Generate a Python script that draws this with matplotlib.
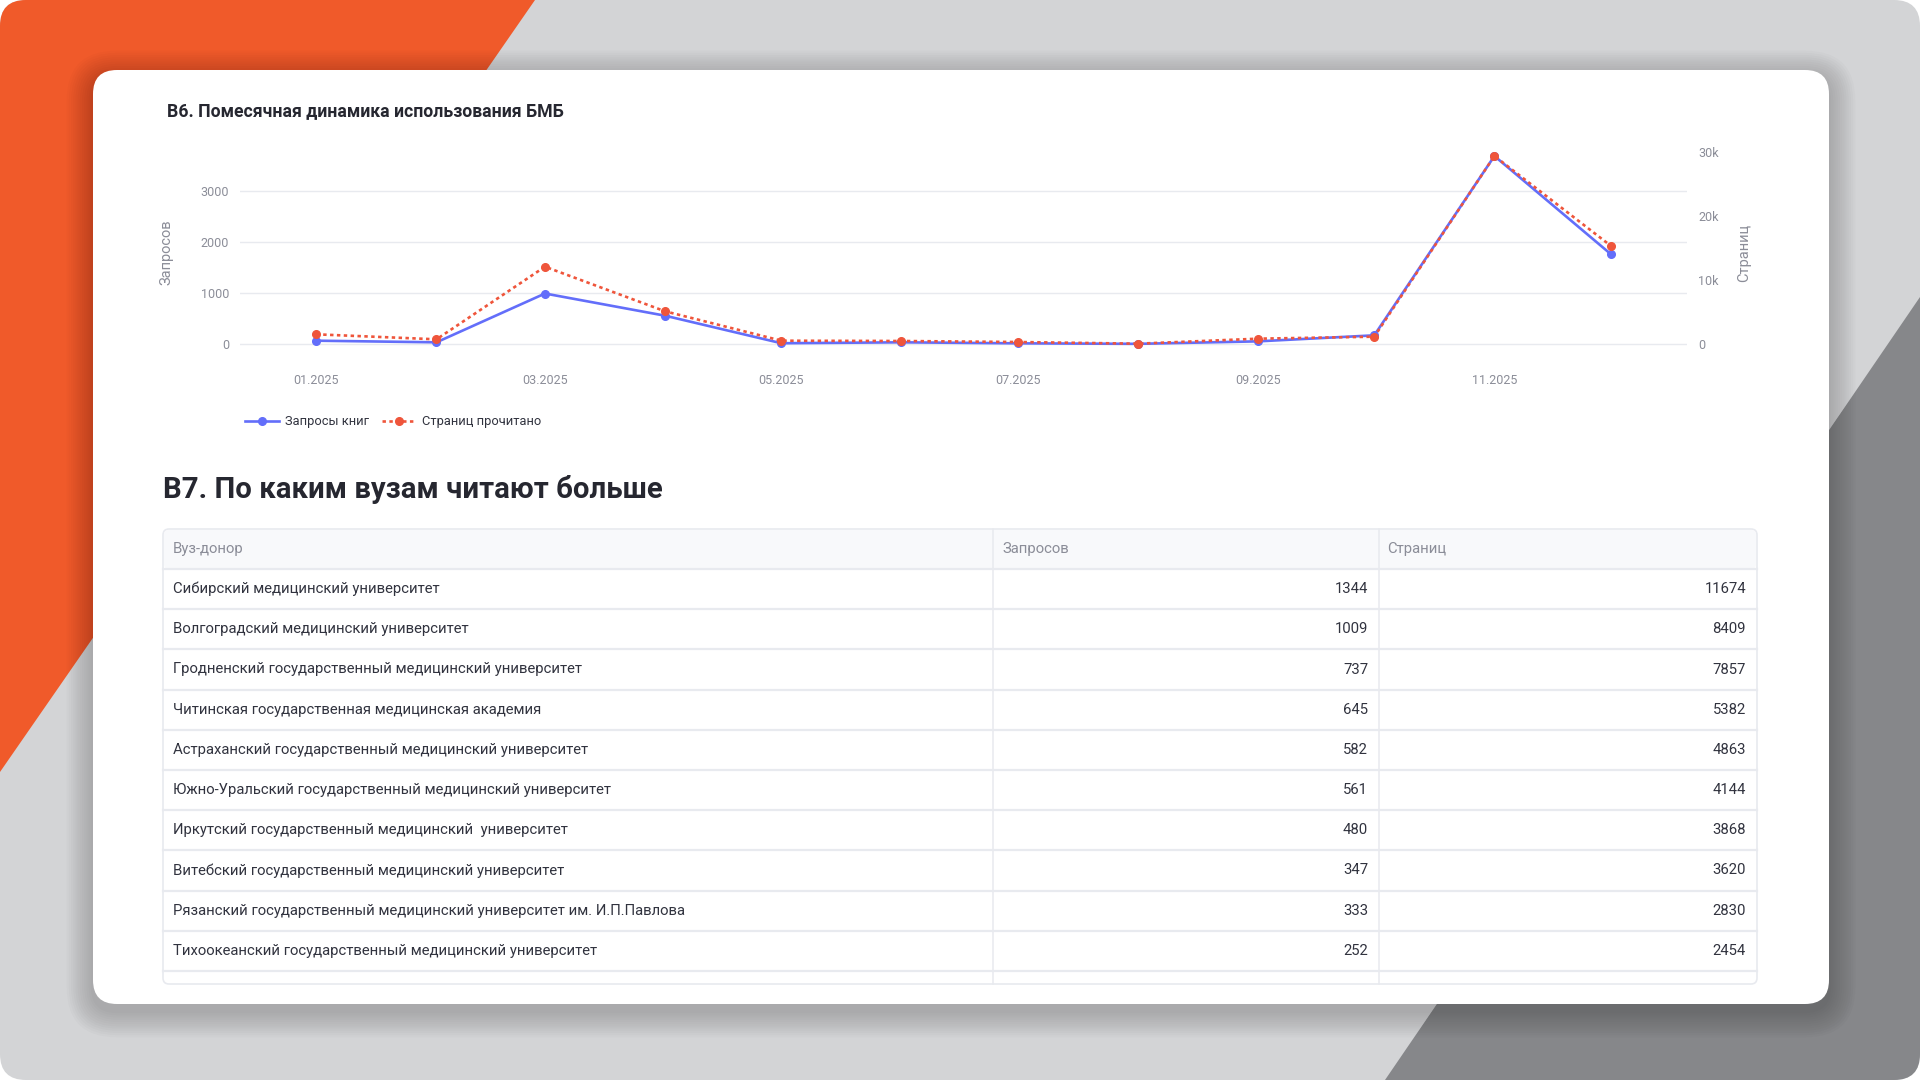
import matplotlib
matplotlib.use("Agg")
import matplotlib.pyplot as plt
import matplotlib.dates as mdates
from matplotlib.patches import FancyBboxPatch, Polygon
import pandas as pd

W, H = 1920, 1080

# --- данные графика B6 ---
months = pd.to_datetime([
    "2025-01-01", "2025-02-01", "2025-03-01", "2025-04-01", "2025-05-01", "2025-06-01",
    "2025-07-01", "2025-08-01", "2025-09-01", "2025-10-01", "2025-11-01", "2025-12-01",
])
requests = [65, 33, 990, 555, 15, 33, 13, 3, 52, 170, 3686, 1765]
pages = [1510, 730, 12060, 5100, 515, 470, 310, 50, 830, 1140, 29330, 15340]

xtick_months = pd.to_datetime(["2025-01-01", "2025-03-01", "2025-05-01",
                               "2025-07-01", "2025-09-01", "2025-11-01"])
xtick_labels = ["01.2025", "03.2025", "05.2025", "07.2025", "09.2025", "11.2025"]
left_ticks = [0, 1000, 2000, 3000]
right_ticks = [0, 10000, 20000, 30000]
right_tick_labels = ["0", "10k", "20k", "30k"]

# --- данные таблицы B7 ---
table_header = ["Вуз-донор", "Запросов", "Страниц"]
universities = [
    "Сибирский медицинский университет",
    "Волгоградский медицинский университет",
    "Гродненский государственный медицинский университет",
    "Читинская государственная медицинская академия",
    "Астраханский государственный медицинский университет",
    "Южно-Уральский государственный медицинский университет",
    "Иркутский государственный медицинский  университет",
    "Витебский государственный медицинский университет",
    "Рязанский государственный медицинский университет им. И.П.Павлова",
    "Тихоокеанский государственный медицинский университет",
]
uni_requests = [1344, 1009, 737, 645, 582, 561, 480, 347, 333, 252]
uni_pages = [11674, 8409, 7857, 5382, 4863, 4144, 3868, 3620, 2830, 2454]

BLUE = "#636efa"
RED = "#ef553b"
TEXT = "#31333f"
GRAY = "#8b8d98"
LINE = "#e8eaef"

plt.rcParams["font.family"] = ["Roboto", "DejaVu Sans"]

fig = plt.figure(figsize=(19.2, 10.8), dpi=100)
fig.patch.set_facecolor("white")

# фон слайда в пиксельных координатах
bg = fig.add_axes([0, 0, 1, 1])
bg.set_xlim(0, W)
bg.set_ylim(H, 0)
bg.axis("off")

frame = FancyBboxPatch((0, 0), W, H, boxstyle="round,pad=0,rounding_size=26",
                       fc="#d3d4d6", ec="none")
bg.add_patch(frame)
orange = Polygon([(0, 0), (535, 0), (0, 772)], closed=True, fc="#f05a2a", ec="none")
bg.add_patch(orange)
orange.set_clip_path(frame)
dark = Polygon([(W, 297), (W, H), (1385, H)], closed=True, fc="#86878a", ec="none")
bg.add_patch(dark)
dark.set_clip_path(frame)

# тень карточки
cx, cy, cw, ch = 93, 70, 1736, 934
for k in range(1, 13):
    g = 2.2 * k
    bg.add_patch(FancyBboxPatch((cx - g, cy - g + 7), cw + 2 * g, ch + 2 * g,
                                boxstyle=f"round,pad=0,rounding_size={24 + g}",
                                fc="black", ec="none", alpha=0.016))
bg.add_patch(FancyBboxPatch((cx, cy), cw, ch, boxstyle="round,pad=0,rounding_size=24",
                            fc="white", ec="none"))

bg.text(167, 111, "B6. Помесячная динамика использования БМБ", fontsize=12.7,
        fontweight="bold", color="#262730", va="center", ha="left")

# --- график ---
ax = fig.add_axes([240 / W, 1 - 360 / H, (1687 - 240) / W, (360 - 145) / H])
ax.patch.set_alpha(0)
l1, = ax.plot(months, requests, color=BLUE, lw=1.9, marker="o", ms=5.5,
              label="Запросы книг", zorder=3)
ax2 = ax.twinx()
l2, = ax2.plot(months, pages, color=RED, lw=1.9, ls=(0, (1.3, 1.3)), marker="o", ms=5.5,
               label="Страниц прочитано", zorder=3)

pad_days = pd.Timedelta(days=19.7)
ax.set_xlim(mdates.date2num(months[0] - pad_days), mdates.date2num(months[-1] + pad_days))
ax.set_ylim(-313.7, 3902)
ax2.set_ylim(-2496, 31045)

ax.set_xticks(mdates.date2num(xtick_months))
ax.set_xticklabels(xtick_labels)
ax.set_yticks(left_ticks)
ax.set_yticklabels([str(t) for t in left_ticks])
ax2.set_yticks(right_ticks)
ax2.set_yticklabels(right_tick_labels)

for a in (ax, ax2):
    for s in a.spines.values():
        s.set_visible(False)
    a.tick_params(length=0, labelsize=9, labelcolor=GRAY)
ax.tick_params(axis="x", pad=10)
ax.tick_params(axis="y", pad=8)
ax2.tick_params(axis="y", pad=8)
ax.grid(axis="y", color=LINE, lw=1)
ax.grid(axis="x", visible=False)
ax.set_axisbelow(True)

ax.set_ylabel("Запросов", fontsize=10.5, color=GRAY)
ax.yaxis.set_label_coords((173 - 240) / 1447, 0.5)
ax2.set_ylabel("Страниц", fontsize=10.5, color=GRAY)
ax2.yaxis.set_label_coords((1737 - 240) / 1447, 0.5)

fig.legend(handles=[l1, l2], loc="center left", bbox_to_anchor=(245 / W, 1 - 422 / H),
           ncol=2, frameon=False, fontsize=9.3, labelcolor=TEXT, handlelength=2.6,
           handletextpad=0.5, columnspacing=1.0, borderpad=0, borderaxespad=0)

# --- таблица ---
bg.text(163, 490, "B7. По каким вузам читают больше", fontsize=21.2, fontweight="bold",
        color="#262730", va="center", ha="left")

tx0, tx1, ty0, ty1 = 163, 1757, 529, 984
head_h, row_h = 40, 40.2
col_x = [163, 993, 1379]
bg.add_patch(FancyBboxPatch((tx0, ty0), tx1 - tx0, ty1 - ty0,
                            boxstyle="round,pad=0,rounding_size=6",
                            fc="white", ec=LINE, lw=1.2, zorder=2))
bg.add_patch(FancyBboxPatch((tx0 + 1, ty0 + 1), tx1 - tx0 - 2, head_h - 1,
                            boxstyle="round,pad=0,rounding_size=5",
                            fc="#f8f9fb", ec="none", zorder=2))
for xc in col_x[1:]:
    bg.plot([xc, xc], [ty0, ty1], color=LINE, lw=1.1, zorder=3)
n_lines = len(universities) + 1
for i in range(n_lines):
    yl = ty0 + head_h + i * row_h
    bg.plot([tx0, tx1], [yl, yl], color=LINE, lw=1.6, zorder=3)

fs = 10.75
bg.text(173, ty0 + head_h / 2, table_header[0], fontsize=fs, color=GRAY, va="center")
bg.text(1002, ty0 + head_h / 2, table_header[1], fontsize=fs, color=GRAY, va="center")
bg.text(1387, ty0 + head_h / 2, table_header[2], fontsize=fs, color=GRAY, va="center")

for i, (name, rq, pg) in enumerate(zip(universities, uni_requests, uni_pages)):
    yc = ty0 + head_h + row_h * (i + 0.5)
    bg.text(173, yc, name, fontsize=fs, color=TEXT, va="center", ha="left", zorder=4)
    bg.text(1368, yc, str(rq), fontsize=fs, color=TEXT, va="center", ha="right", zorder=4)
    bg.text(1746, yc, str(pg), fontsize=fs, color=TEXT, va="center", ha="right", zorder=4)

fig.savefig("out.png", dpi=100)
